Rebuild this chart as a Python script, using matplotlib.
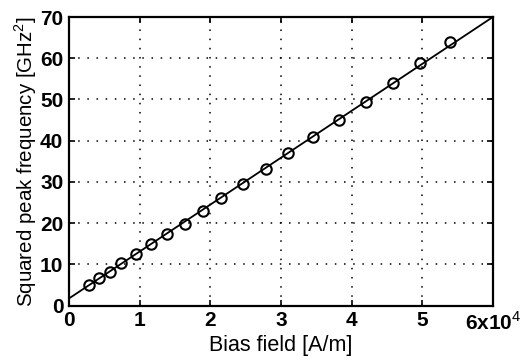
import matplotlib
matplotlib.use("Agg")
import matplotlib.pyplot as plt

field = [0.29, 0.42, 0.58, 0.74, 0.95, 1.16, 1.39, 1.64, 1.90, 2.15, 2.46, 2.79,
         3.10, 3.46, 3.82, 4.21, 4.59, 4.97, 5.39]
freq_sq = [5.0, 6.6, 8.2, 10.2, 12.4, 14.9, 17.3, 19.9, 22.9, 26.2, 29.5, 33.1,
           36.9, 41.0, 45.0, 49.4, 54.0, 58.9, 64.0]
fit_x = [0, 6]
fit_y = [1.7, 70]
xtick_labels = ["0", "1", "2", "3", "4", "5", "6x10$^4$"]
yticks = [0, 10, 20, 30, 40, 50, 60, 70]

plt.rcParams['font.family'] = ['Liberation Sans', 'DejaVu Sans']
plt.rcParams['mathtext.fontset'] = 'custom'
plt.rcParams['mathtext.rm'] = 'Liberation Sans'
plt.rcParams['mathtext.bf'] = 'Liberation Sans:bold'

fig = plt.figure(figsize=(5.26, 3.62), dpi=100)
ax = fig.add_axes([0.131, 0.156, 0.806, 0.797])

ax.plot(fit_x, fit_y, color='black', lw=1.3)
ax.plot(field, freq_sq, 'o', mfc='none', mec='black', mew=1.5, ms=7.5)

ax.set_xlim(0, 6)
ax.set_ylim(0, 70)
ax.set_xticks(range(7))
ax.set_xticklabels(xtick_labels)
ax.set_yticks(yticks)
ax.grid(True, color='black', linestyle=(0, (1, 5)), lw=1.1)
ax.tick_params(direction='in', top=True, right=True, length=4, width=1.2,
               labelsize=15, pad=4)
for lab in ax.get_xticklabels() + ax.get_yticklabels():
    lab.set_fontweight('bold')
for s in ax.spines.values():
    s.set_linewidth(1.6)

ax.set_xlabel("Bias field [A/m]", fontsize=15.5, labelpad=1)
ax.set_ylabel("Squared peak frequency [GHz$^2$]", fontsize=14.8, labelpad=1)

fig.savefig("out.png", dpi=100)
